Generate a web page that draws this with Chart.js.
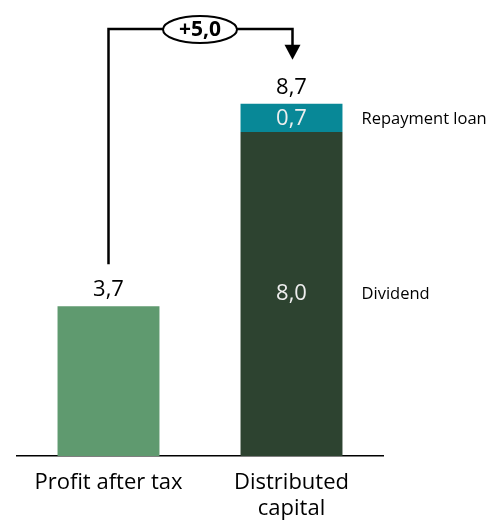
<!DOCTYPE html>
<html>
<head>
<meta charset="utf-8">
<script src="https://cdn.jsdelivr.net/npm/chart.js@4.4.1/dist/chart.umd.min.js"></script>
<style>
  html, body { margin: 0; padding: 0; background: #fff; }
  #wrap { width: 495px; height: 520px; position: relative; }
</style>
</head>
<body>
<div id="wrap"><canvas id="chart"></canvas></div>
<script>
// Chart data
const categories = [['Profit after tax'], ['Distributed', 'capital']];
const profitValues = [3.7, null];
const dividendValues = [null, 8.0];
const repaymentValues = [null, 0.7];
const seriesNames = ['Profit after tax', 'Dividend', 'Repayment loan'];
const deltaLabel = '+5,0';

const FONT = "'Open Sans', 'Noto Sans', sans-serif";

function fmt(v) {
    return v.toFixed(1).replace('.', ',');
}

// Value labels, total labels, side legend and the connector arrow
const annotatePlugin = {
    id: 'annotate',
    afterDatasetsDraw(chart) {
        const ctx = chart.ctx;
        const x = chart.scales.x;
        const y = chart.scales.y;
        ctx.save();
        ctx.textAlign = 'center';

        // bar 1 label above
        const x0 = x.getPixelForValue(0);
        const x1 = x.getPixelForValue(1);
        const top0 = y.getPixelForValue(profitValues[0]);
        ctx.fillStyle = '#000';
        ctx.font = '22px ' + FONT;
        ctx.textBaseline = 'middle';
        ctx.fillText(fmt(profitValues[0]), x0, top0 - 16);

        // stacked bar: segment labels
        const total = dividendValues[1] + repaymentValues[1];
        const yDivTop = y.getPixelForValue(dividendValues[1]);
        const yBase = y.getPixelForValue(0);
        const yTot = y.getPixelForValue(total);
        ctx.fillStyle = '#eeeeee';
        ctx.fillText(fmt(dividendValues[1]), x1, (yDivTop + yBase) / 2);
        ctx.fillText(fmt(repaymentValues[1]), x1, (yDivTop + yTot) / 2 + 1);
        ctx.fillStyle = '#000';
        ctx.fillText(fmt(total), x1, yTot - 16);

        // side legend
        ctx.textAlign = 'left';
        ctx.font = '16.5px ' + FONT;
        const legX = x1 + 70;
        ctx.fillText(seriesNames[2], legX, (yDivTop + yTot) / 2 + 1);
        ctx.fillText(seriesNames[1], legX, (yDivTop + yBase) / 2);

        // connector
        const lineY = 29;
        const startY = top0 - 42;
        const tipY = yTot - 44;
        ctx.strokeStyle = '#000';
        ctx.lineWidth = 2.5;
        ctx.beginPath();
        ctx.moveTo(x0, startY);
        ctx.lineTo(x0, lineY);
        ctx.lineTo(x1 + 1, lineY);
        ctx.lineTo(x1 + 1, tipY - 14);
        ctx.stroke();
        ctx.fillStyle = '#000';
        ctx.beginPath();
        ctx.moveTo(x1 + 1 - 8, tipY - 15);
        ctx.lineTo(x1 + 1 + 8, tipY - 15);
        ctx.lineTo(x1 + 1, tipY);
        ctx.closePath();
        ctx.fill();

        // bubble with delta
        const cx = 200;
        ctx.beginPath();
        ctx.ellipse(cx, lineY + 0.5, 37, 13.5, 0, 0, Math.PI * 2);
        ctx.fillStyle = '#fff';
        ctx.fill();
        ctx.lineWidth = 2;
        ctx.stroke();
        ctx.fillStyle = '#000';
        ctx.textAlign = 'center';
        ctx.font = 'bold 21px ' + FONT;
        ctx.fillText(deltaLabel, cx, lineY + 1);
        ctx.restore();
    }
};

new Chart(document.getElementById('chart'), {
    type: 'bar',
    data: {
        labels: categories,
        datasets: [
            { label: seriesNames[0], data: profitValues, backgroundColor: '#5f9a6f', stack: 's' },
            { label: seriesNames[1], data: dividendValues, backgroundColor: '#2d4330', stack: 's' },
            { label: seriesNames[2], data: repaymentValues, backgroundColor: '#088897', stack: 's' }
        ]
    },
    options: {
        responsive: true,
        maintainAspectRatio: false,
        animation: false,
        layout: { padding: { top: 51, left: 17, right: 112, bottom: 0 } },
        datasets: {
            bar: { barPercentage: 1, categoryPercentage: 0.557 }
        },
        scales: {
            x: {
                stacked: true,
                grid: { display: false, drawTicks: false },
                border: { display: true, color: '#000', width: 1.5 },
                ticks: {
                    color: '#000',
                    padding: 14,
                    font: { family: FONT, size: 22, lineHeight: 1.16 }
                },
                afterFit(axis) {
                    axis.height = 64;
                }
            },
            y: {
                stacked: true,
                display: false,
                min: 0,
                max: 10
            }
        },
        plugins: {
            legend: { display: false },
            tooltip: { enabled: false }
        }
    },
    plugins: [annotatePlugin]
});
</script>
</body>
</html>
